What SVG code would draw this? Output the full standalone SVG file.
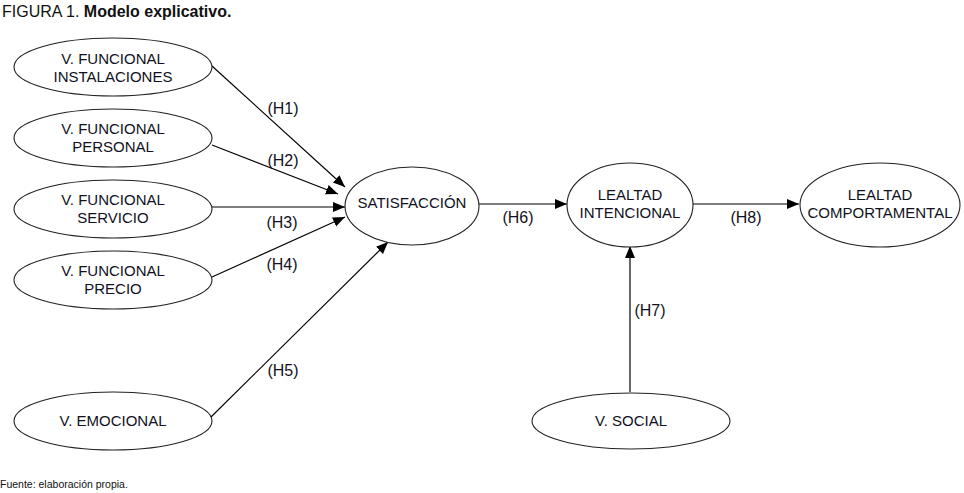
<svg xmlns="http://www.w3.org/2000/svg" width="964" height="493" viewBox="0 0 964 493">
  <style>
    .node ellipse { fill: #ffffff; stroke: #222222; stroke-width: 1.1; }
    .node text { font-family: "Liberation Sans", Arial, sans-serif; font-size: 15px; fill: #111122; text-anchor: middle; }
    .edge { stroke: #000000; stroke-width: 1.2; fill: none; marker-end: url(#arrow); }
    .lbl { font-family: "Liberation Sans", Arial, sans-serif; font-size: 16px; fill: #111122; text-anchor: middle; }
    .title { font-family: "Liberation Sans", Arial, sans-serif; font-size: 16px; fill: #111111; }
    .src { font-family: "Liberation Sans", Arial, sans-serif; font-size: 10.5px; fill: #111111; }
  </style>
  <defs>
    <marker id="arrow" markerUnits="userSpaceOnUse" markerWidth="13" markerHeight="11" refX="12" refY="5" orient="auto">
      <path d="M0,0 L12,5 L0,10 z" fill="#000000"/>
    </marker>
  </defs>
  <rect width="964" height="493" fill="#ffffff"/>

  <text class="title" x="2" y="17">FIGURA 1. <tspan font-weight="bold">Modelo explicativo.</tspan></text>

  <g id="connectors">
    <line class="edge" x1="212" y1="66" x2="345" y2="187"/>
    <line class="edge" x1="212" y1="145" x2="338" y2="194"/>
    <line class="edge" x1="212" y1="207" x2="345" y2="207"/>
    <line class="edge" x1="212" y1="277" x2="345" y2="217"/>
    <line class="edge" x1="211" y1="417" x2="388" y2="242"/>
    <line class="edge" x1="479" y1="204" x2="567" y2="204"/>
    <line class="edge" x1="630" y1="392" x2="630" y2="246"/>
    <line class="edge" x1="693" y1="204" x2="799" y2="204"/>
    <text class="lbl" x="283" y="114">(H1)</text>
    <text class="lbl" x="283" y="166">(H2)</text>
    <text class="lbl" x="282" y="228">(H3)</text>
    <text class="lbl" x="282" y="270">(H4)</text>
    <text class="lbl" x="283" y="376">(H5)</text>
    <text class="lbl" x="518" y="223">(H6)</text>
    <text class="lbl" x="650" y="316">(H7)</text>
    <text class="lbl" x="746" y="223">(H8)</text>
  </g>

  <g id="n-instalaciones" class="node">
    <ellipse cx="113" cy="67" rx="99" ry="29"/>
    <text x="113" y="64">V. FUNCIONAL</text>
    <text x="113" y="82">INSTALACIONES</text>
  </g>
  <g id="n-personal" class="node">
    <ellipse cx="113" cy="138" rx="99" ry="29"/>
    <text x="113" y="134">V. FUNCIONAL</text>
    <text x="113" y="152">PERSONAL</text>
  </g>
  <g id="n-servicio" class="node">
    <ellipse cx="113" cy="209" rx="99" ry="29"/>
    <text x="113" y="205">V. FUNCIONAL</text>
    <text x="113" y="223">SERVICIO</text>
  </g>
  <g id="n-precio" class="node">
    <ellipse cx="113" cy="280" rx="99" ry="29"/>
    <text x="113" y="276">V. FUNCIONAL</text>
    <text x="113" y="294">PRECIO</text>
  </g>
  <g id="n-emocional" class="node">
    <ellipse cx="113" cy="421" rx="99" ry="29"/>
    <text x="113" y="426">V. EMOCIONAL</text>
  </g>
  <g id="n-satisfaccion" class="node">
    <ellipse cx="412" cy="206" rx="67" ry="39"/>
    <text x="412" y="208">SATISFACCIÓN</text>
  </g>
  <g id="n-lealtad-intencional" class="node">
    <ellipse cx="630" cy="205" rx="63" ry="42"/>
    <text x="630" y="200">LEALTAD</text>
    <text x="630" y="218">INTENCIONAL</text>
  </g>
  <g id="n-lealtad-comportamental" class="node">
    <ellipse cx="880" cy="205" rx="80" ry="42"/>
    <text x="880" y="200">LEALTAD</text>
    <text x="880" y="218">COMPORTAMENTAL</text>
  </g>
  <g id="n-social" class="node">
    <ellipse cx="631" cy="421" rx="99" ry="28"/>
    <text x="631" y="426">V. SOCIAL</text>
  </g>

  <text class="src" x="0" y="488">Fuente: elaboración propia.</text>
</svg>
